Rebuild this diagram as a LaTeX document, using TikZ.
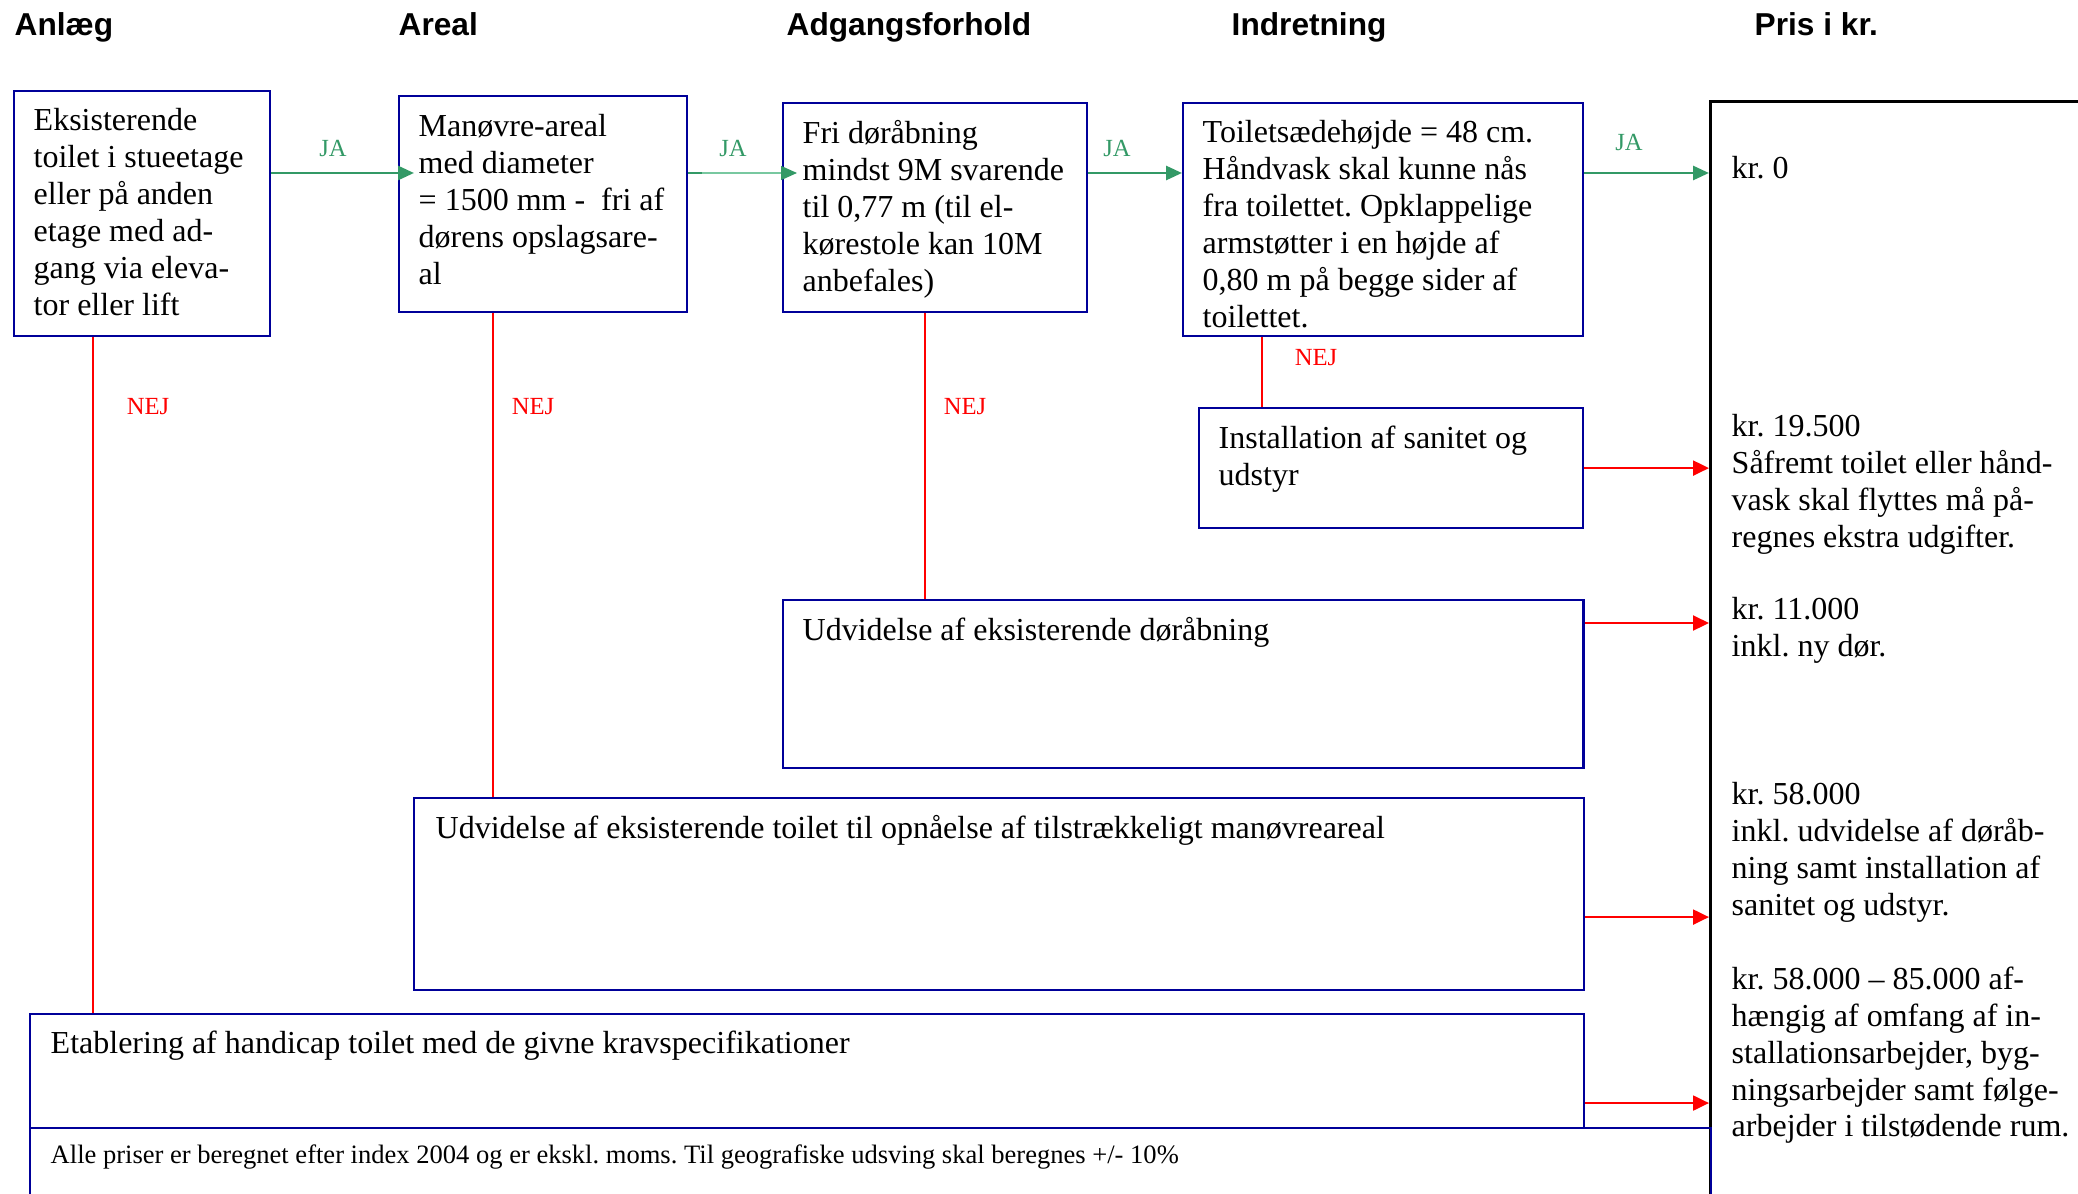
\documentclass[tikz,border=0pt]{standalone}
\usepackage{fontspec}
\setmainfont{Liberation Serif}
\newfontfamily\headfont{Liberation Sans}
\usetikzlibrary{arrows.meta}
\definecolor{boxblue}{RGB}{0,0,153}
\definecolor{jagreen}{RGB}{51,153,102}
\definecolor{jalight}{RGB}{120,200,160}
\definecolor{nejred}{RGB}{255,0,0}

\tikzset{
	box/.style={draw=boxblue, line width=0.6pt, anchor=north west, inner sep=0pt},
	boxtext/.style={anchor=north west, inner sep=0pt, align=left, font=\fontsize{9.1}{10.5}\selectfont},
	head/.style={anchor=base west, inner sep=0pt, font=\headfont\bfseries\fontsize{9}{11}\selectfont},
	lbl/.style={inner sep=0pt, font=\fontsize{7}{8}\selectfont},
	ja/.style={draw=jagreen, line width=0.8pt, -{Triangle[length=0.16cm,width=0.14cm]}},
	nej/.style={draw=nejred, line width=0.45pt},
	nejarrow/.style={draw=nejred, line width=0.6pt, -{Triangle[length=0.16cm,width=0.15cm]}},
}

\begin{document}
\frenchspacing
\begin{tikzpicture}[x=0.01cm, y=-0.01cm]
	\useasboundingbox (0,0) rectangle (2078,1194);

	% column heads
	\node[head] (hanlaeg) at (14,36) {Anlæg};
	\node[head] (hareal) at (398,36) {Areal};
	\node[head] (hadgang) at (786,36) {Adgangsforhold};
	\node[head] (hindret) at (1231,36) {Indretning};
	\node[head] (hpris) at (1754,36) {Pris i kr.};

	% boxes
	\node[box, minimum width=2.56cm, minimum height=2.45cm] (anlaeg) at (13,90) {}; %anlaeg
	\node[box, minimum width=2.88cm, minimum height=2.16cm] (areal) at (398,95) {}; %areal
	\node[box, minimum width=3.04cm, minimum height=2.09cm] (adgang) at (782,102) {}; %adgang
	\node[box, minimum width=4.00cm, minimum height=2.33cm] (indret) at (1182,102) {}; %indretning
	\node[box, minimum width=3.84cm, minimum height=1.20cm] (sanitet) at (1198,407) {}; %sanitet
	\node[box, minimum width=8.00cm, minimum height=1.68cm] (doer) at (782,599) {}; %doerabning
	\node[box, minimum width=11.69cm, minimum height=1.92cm] (udvid) at (413,797) {}; %udvidelse toilet
	\node[box, minimum width=15.53cm, minimum height=1.14cm] (etabl) at (29,1013) {}; %etablering
	\node[box, draw=black, line width=0.85pt, minimum width=5cm, minimum height=12cm] (pris) at (1709,100) {}; %pris
	\node[box, minimum width=16.80cm, minimum height=1.5cm] (note) at (29,1127) {}; %note

	% box texts
	\node[boxtext] (tanlaeg) at ([shift={(20,18)}]anlaeg.north west) {Eksisterende\\toilet i stueetage\\eller på anden\\etage med ad-\\gang via eleva-\\tor eller lift};
	\node[boxtext] (tareal) at ([shift={(20,19)}]areal.north west) {Manøvre-areal\\med diameter\\= 1500 mm -~~fri af\\dørens opslagsare-\\al};
	\node[boxtext] (tadgang) at ([shift={(20,18)}]adgang.north west) {Fri døråbning\\mindst 9M svarende\\til 0,77 m (til el-\\kørestole kan 10M\\anbefales)};
	\node[boxtext] (tindret) at ([shift={(20,18)}]indret.north west) {Toiletsædehøjde = 48 cm.\\Håndvask skal kunne nås\\fra toilettet. Opklappelige\\armstøtter i en højde af\\0,80 m på begge sider af\\toilettet.};
	\node[boxtext] (tsanitet) at ([shift={(20,18)}]sanitet.north west) {Installation af sanitet og\\udstyr};
	\node[boxtext] (tdoer) at ([shift={(20,18)}]doer.north west) {Udvidelse af eksisterende døråbning};
	\node[boxtext] (tudvid) at ([shift={(22,18)}]udvid.north west) {Udvidelse af eksisterende toilet til opnåelse af tilstrækkeligt manøvreareal};
	\node[boxtext] (tetabl) at ([shift={(21,17)}]etabl.north west) {Etablering af handicap toilet med de givne kravspecifikationer};
	\node[boxtext, font=\fontsize{7.55}{9}\selectfont] (tnote) at ([shift={(21,17)}]note.north west) {Alle priser er beregnet efter index 2004 og er ekskl. moms. Til geografiske udsving skal beregnes +/- 10\%};

	% prices
	\node[boxtext] (p0) at (1731,156) {kr. 0};
	\node[boxtext] (p1) at (1731,414) {kr. 19.500\\Såfremt toilet eller hånd-\\vask skal flyttes må på-\\regnes ekstra udgifter.};
	\node[boxtext] (p2) at (1731,597) {kr. 11.000\\inkl. ny dør.};
	\node[boxtext] (p3) at (1731,782) {kr. 58.000\\inkl. udvidelse af døråb-\\ning samt installation af\\sanitet og udstyr.};
	\node[boxtext] (p4) at (1731,966) {kr. 58.000 -- 85.000 af-\\hængig af omfang af in-\\stallationsarbejder, byg-\\ningsarbejder samt følge-\\arbejder i tilstødende rum.};

	% JA arrows
	\coordinate (jarow) at (0,173);
	\draw[ja, shorten >=-0.16cm] (anlaeg.east |- jarow) -- (areal.west |- jarow);
	\draw[ja, draw=jalight, line width=0.4pt, -{Triangle[length=0.16cm,width=0.14cm,color=jagreen]}, shorten >=-0.15cm] (areal.east |- jarow) -- (adgang.west |- jarow);
	\draw[draw=jagreen, line width=0.8pt] (areal.east |- jarow) -- ++(14,0);
	\draw[ja] (adgang.east |- jarow) -- (indret.west |- jarow);
	\draw[ja] (indret.east |- jarow) -- (pris.west |- jarow);
	\node[lbl, text=jagreen] (ja1) at (333,148) {JA};
	\node[lbl, text=jagreen] (ja2) at (733,148) {JA};
	\node[lbl, text=jagreen] (ja3) at (1117,148) {JA};
	\node[lbl, text=jagreen] (ja4) at (1629,142) {JA};

	% NEJ lines
	\draw[nej] ([xshift=0.8cm]anlaeg.south west) -- ([xshift=0.8cm]anlaeg.south west |- etabl.north);
	\draw[nej] ([xshift=0.95cm]areal.south west) -- ([xshift=0.95cm]areal.south west |- udvid.north);
	\draw[nej] ([xshift=1.43cm]adgang.south west) -- ([xshift=1.43cm]adgang.south west |- doer.north);
	\draw[nej] ([xshift=0.8cm]indret.south west) -- ([xshift=0.8cm]indret.south west |- sanitet.north);
	\node[lbl, text=nejred] (nej1) at (148,407) {NEJ};
	\node[lbl, text=nejred] (nej2) at (533,407) {NEJ};
	\node[lbl, text=nejred] (nej3) at (965,407) {NEJ};
	\node[lbl, text=nejred] (nej4) at (1316,358) {NEJ};

	% price arrows
	\draw[nejarrow] (sanitet.east) -- (sanitet.east -| pris.west);
	\draw[nejarrow] ([yshift=-0.24cm]doer.north east) -- ([yshift=-0.24cm]doer.north east -| pris.west);
	\draw[nejarrow] ([yshift=-1.2cm]udvid.north east) -- ([yshift=-1.2cm]udvid.north east -| pris.west);
	\draw[nejarrow] ([yshift=-0.9cm]etabl.north east) -- ([yshift=-0.9cm]etabl.north east -| pris.west);
\end{tikzpicture}
\end{document}
